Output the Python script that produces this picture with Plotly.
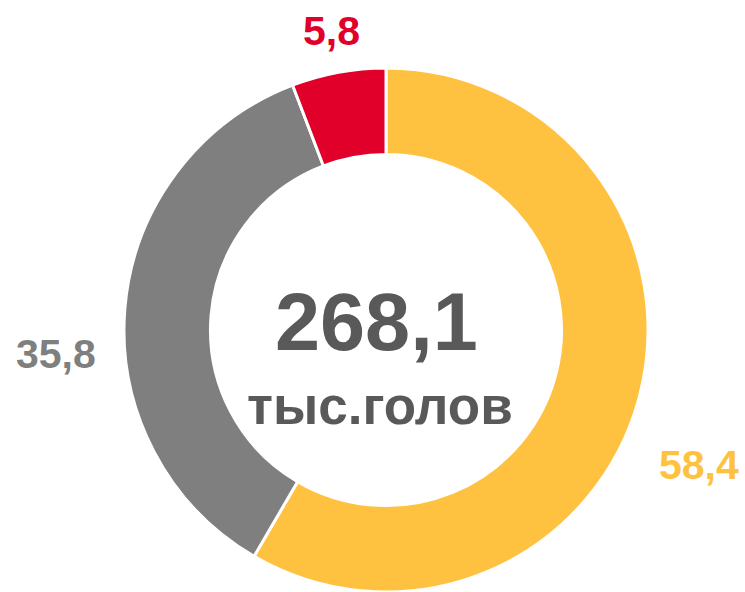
import plotly.graph_objects as go

labels = ["A", "B", "C"]
values = [58.4, 35.8, 5.8]
value_labels = ["58,4", "35,8", "5,8"]
colors = ["#FFC240", "#7F7F7F", "#E0002A"]
total_text = "268,1"
unit_text = "тыс.голов"

W, H = 745, 592

def px(x, y):
    return dict(x=x / W, y=1 - y / H, xref="paper", yref="paper")

fig = go.Figure(go.Pie(
    labels=labels, values=values, sort=False, direction="clockwise", rotation=0,
    hole=0.67, marker=dict(colors=colors, line=dict(color="white", width=3)),
    textinfo="none", hoverinfo="skip", showlegend=False,
    domain=dict(x=[121 / W, 651 / W], y=[0, 1 - 68 / H]),
))

font = "Liberation Sans, Arial, sans-serif"
ann = []
label_pos = [(699, 465), (56, 354), (331, 31)]
for t, c, (x, y) in zip(value_labels, colors, label_pos):
    ann.append(dict(**px(x, y), text=f"<b>{t}</b>", showarrow=False,
                    font=dict(family=font, size=41, color=c),
                    xanchor="center", yanchor="middle"))
ann.append(dict(**px(376, 322), text=f"<b>{total_text}</b>", showarrow=False,
                font=dict(family=font, size=81, color="#595959"),
                xanchor="center", yanchor="middle"))
ann.append(dict(**px(380, 405), text=f"<b>{unit_text}</b>", showarrow=False,
                font=dict(family=font, size=53, color="#595959"),
                xanchor="center", yanchor="middle"))

fig.update_layout(width=W, height=H, margin=dict(l=0, r=0, t=0, b=0),
                  paper_bgcolor="white", plot_bgcolor="white", annotations=ann)
fig.write_html("out.html")
